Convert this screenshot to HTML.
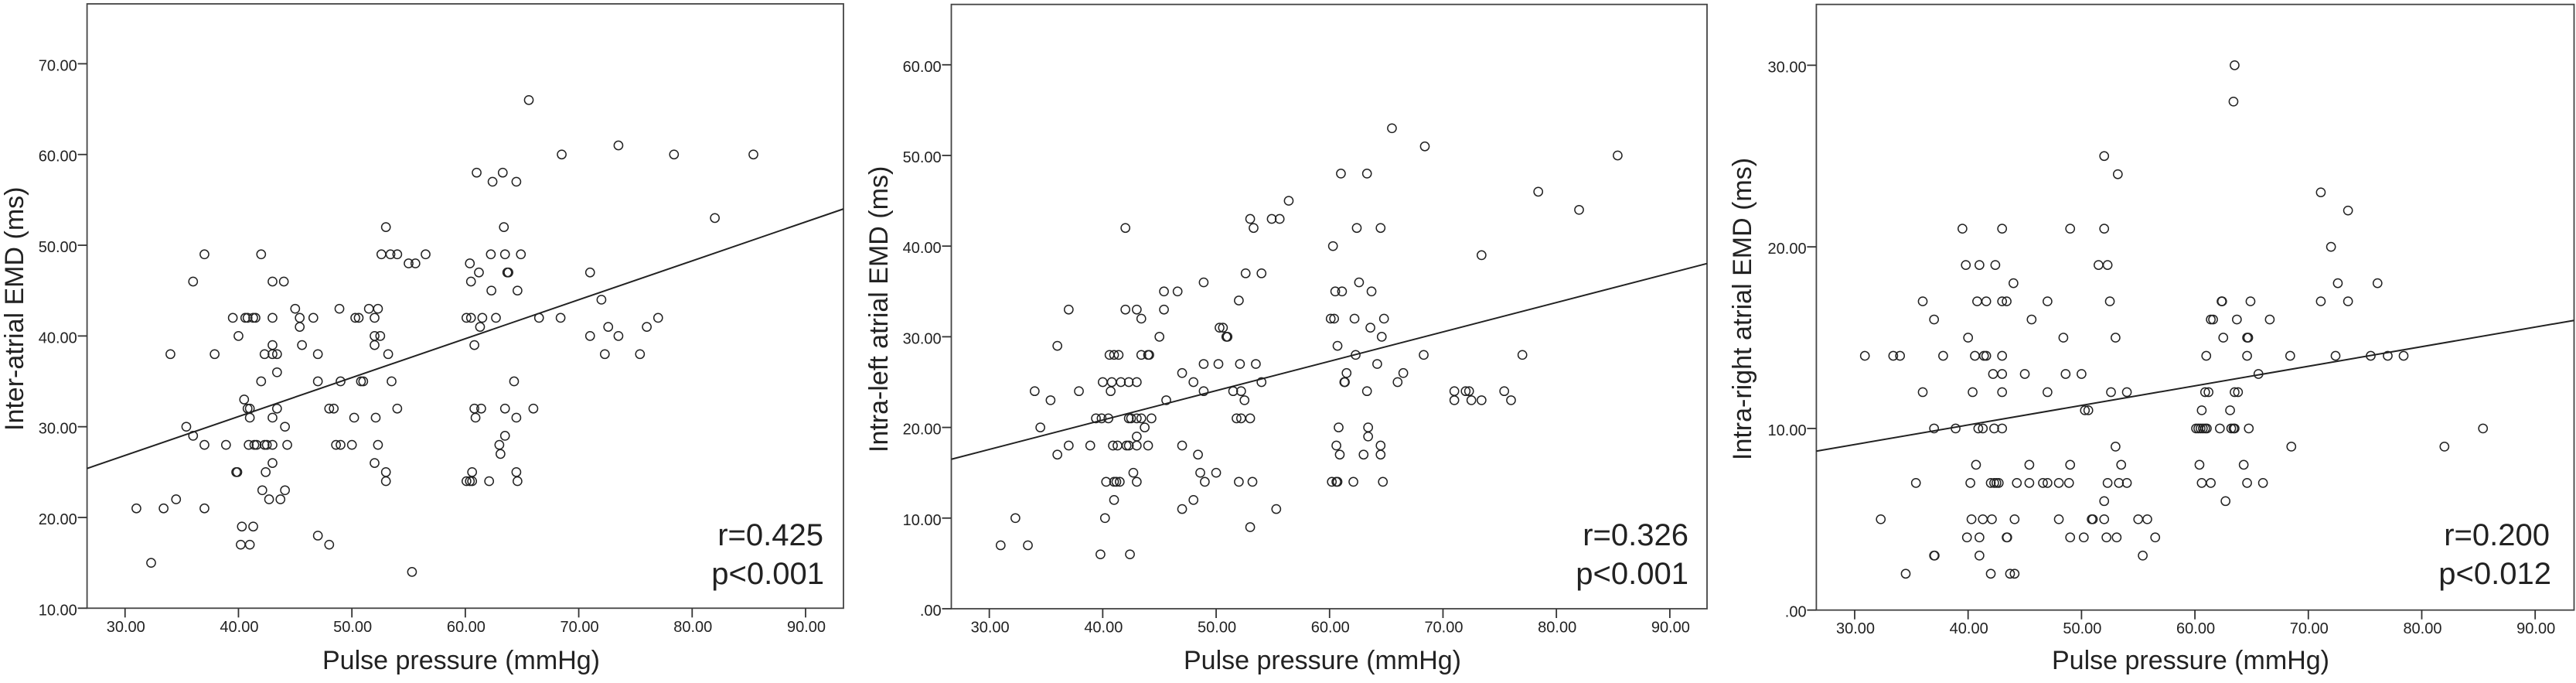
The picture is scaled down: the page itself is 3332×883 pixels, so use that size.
<!DOCTYPE html>
<html lang="en">
<head>
<meta charset="utf-8">
<title>Pulse pressure vs EMD scatter plots</title>
<style>
html,body{margin:0;padding:0;background:#fff;width:3332px;height:883px;overflow:hidden}
svg{display:block}
text{font-family:"Liberation Sans",Arial,sans-serif;fill:#222}
.tick{font-size:20px}
.title{font-size:34px}
.note{font-size:40px;text-anchor:end}
</style>
</head>
<body>
<svg id="figure" xmlns="http://www.w3.org/2000/svg" width="3332" height="883" viewBox="0 0 3332 883">
  <rect x="0" y="0" width="3332" height="883" fill="#fff"/>

  <g id="panel-a">
    <text class="title" transform="translate(30 557) rotate(-90)">Inter-atrial EMD (ms)</text>
    <text class="title" x="417" y="865">Pulse pressure (mmHg)</text>
    <text class="note" x="1065" y="705">r=0.425</text>
    <text class="note" x="1066" y="755">p&lt;0.001</text>
  </g>

  <g id="panel-b">
    <text class="title" transform="translate(1148 585) rotate(-90)">Intra-left atrial EMD (ms)</text>
    <text class="title" x="1531" y="865">Pulse pressure (mmHg)</text>
    <text class="note" x="2184" y="705">r=0.326</text>
    <text class="note" x="2184" y="755">p&lt;0.001</text>
  </g>

  <g id="panel-c">
    <text class="title" transform="translate(2265 595) rotate(-90)">Intra-right atrial EMD (ms)</text>
    <text class="title" x="2654" y="865">Pulse pressure (mmHg)</text>
    <text class="note" x="3298" y="705">r=0.200</text>
    <text class="note" x="3300" y="755">p&lt;0.012</text>
  </g>
</svg>

<script>
const xTickValues = [30, 40, 50, 60, 70, 80, 90];
const xTickLabels = ["30.00", "40.00", "50.00", "60.00", "70.00", "80.00", "90.00"];

const interAtrialYTicks = [10, 20, 30, 40, 50, 60, 70];
const interAtrialYLabels = ["10.00", "20.00", "30.00", "40.00", "50.00", "60.00", "70.00"];
const intraLeftYTicks = [0, 10, 20, 30, 40, 50, 60];
const intraLeftYLabels = [".00", "10.00", "20.00", "30.00", "40.00", "50.00", "60.00"];
const intraRightYTicks = [0, 10, 20, 30];
const intraRightYLabels = [".00", "10.00", "20.00", "30.00"];

const interAtrialFit = [25.4, 54.0];
const intraLeftFit = [16.49, 38.08];
const intraRightFit = [8.75, 15.95];

const interAtrialPressure = [
  65.6, 73.5, 68.5, 78.4, 85.4, 61, 63.3, 62.4, 64.5, 82, 53, 63.4,
  37, 42, 52.6, 53.4, 54, 56.5, 62.25, 63.5, 64.9,
  55, 55.6, 60.4,
  61.2, 63.7, 63.8, 71,
  36, 43, 44, 60.5,
  62.3, 64.6,
  72,
  45, 48.9, 51.5, 52.3,
  39.5, 40.6, 40.8, 41.3, 41.5, 43, 45.4, 46.6, 50.3, 50.6, 52, 60.1, 60.5, 61.5, 62.7, 66.5, 68.4, 77,
  45.4, 61.3, 72.6, 76,
  40, 52, 52.5, 71, 73.5,
  43, 45.6, 52, 60.8,
  34, 37.9, 42.3, 43, 43.4, 47, 53.2, 72.3, 75.4,
  43.4,
  42, 47, 49, 50.8, 51, 53.5, 64.3,
  40.5,
  40.8, 41, 43.4, 48, 48.4, 54, 60.8, 61.4, 63.5, 66,
  41, 43, 50.2, 52.1, 60.9, 64.5,
  35.4, 44.1,
  36, 63.5,
  37, 38.9, 40.9, 41.4, 41.6, 42.3, 42.5, 43, 44.3, 48.6, 49, 50, 52.3, 63,
  63.1,
  43, 52,
  39.8, 39.9, 42.4, 53, 60.6, 64.5,
  53, 60.1, 60.4, 60.6, 62.1, 64.6,
  42.1, 44.1,
  34.5, 42.7, 43.7,
  31, 33.4, 37,
  40.3, 41.3,
  47,
  40.2, 41, 48,
  32.3,
  55.3
];
const interAtrialEmd = [
  66, 61, 60, 60, 60, 58, 58, 57, 57, 53, 52, 52,
  49, 49, 49, 49, 49, 49, 49, 49, 49,
  48, 48, 48,
  47, 47, 47, 47,
  46, 46, 46, 46,
  45, 45,
  44,
  43, 43, 43, 43,
  42, 42, 42, 42, 42, 42, 42, 42, 42, 42, 42, 42, 42, 42, 42, 42, 42, 42,
  41, 41, 41, 41,
  40, 40, 40, 40, 40,
  39, 39, 39, 39,
  38, 38, 38, 38, 38, 38, 38, 38, 38,
  36,
  35, 35, 35, 35, 35, 35, 35,
  33,
  32, 32, 32, 32, 32, 32, 32, 32, 32, 32,
  31, 31, 31, 31, 31, 31,
  30, 30,
  29, 29,
  28, 28, 28, 28, 28, 28, 28, 28, 28, 28, 28, 28, 28, 28,
  27,
  26, 26,
  25, 25, 25, 25, 25, 25,
  24, 24, 24, 24, 24, 24,
  23, 23,
  22, 22, 22,
  21, 21, 21,
  19, 19,
  18,
  17, 17, 17,
  15,
  14
];

const intraLeftPressure = [
  65.5, 68.4, 85.4, 61, 63.3, 78.4, 56.4, 82,
  53, 54.9, 55.6,
  42, 53.3, 62.4, 64.5,
  60.3, 73.4,
  52.6, 54,
  48.9, 62.6,
  45.4, 46.6, 60.5, 61.1, 63.7,
  52,
  37, 42, 43, 45.4,
  43.4, 60.1, 60.4, 62.2, 64.8,
  50.3, 50.6, 63.6,
  45, 50.9, 51, 64.6,
  36, 60.7,
  40.6, 41, 41.4, 43.4, 44, 44.1, 62.3, 68.3, 77,
  48.9, 50.2, 52.1, 53.5, 64.2,
  47, 61.5, 66.5,
  40, 40.8, 41.6, 42.3, 43, 48, 54, 61.3, 61.35, 66,
  34, 37.9, 40.7, 48.9, 51.5, 52.2, 63.3, 71, 72, 72.3, 75.4,
  35.4, 45.6, 52.5, 71, 72.5, 73.4, 76,
  39.4, 39.9, 40.5, 42.3, 42.5, 43, 43.4, 44.3, 51.8, 52.2, 53,
  34.5, 43.7, 60.8, 63.4,
  43, 63.4,
  37, 38.9, 40.9, 41.3, 42.1, 42.3, 43, 44, 47, 60.6, 64.5,
  36, 48.4, 60.9, 63, 64.5,
  42.7, 48.6, 50,
  40.3, 41, 41.2, 41.5, 43, 49, 52, 53.2, 60.2, 60.6, 60.7, 62.1, 64.7,
  41, 48,
  47, 55.3,
  32.3, 40.2,
  53,
  31, 33.4,
  39.8, 42.4
];
const intraLeftEmd = [
  53, 51, 50, 48, 48, 46, 45, 44,
  43, 43, 43,
  42, 42, 42, 42,
  40, 39,
  37, 37,
  36, 36,
  35, 35, 35, 35, 35,
  34,
  33, 33, 33, 33,
  32, 32, 32, 32, 32,
  31, 31, 31,
  30, 30, 30, 30,
  29, 29,
  28, 28, 28, 28, 28, 28, 28, 28, 28,
  27, 27, 27, 27, 27,
  26, 26, 26,
  25, 25, 25, 25, 25, 25, 25, 25, 25, 25,
  24, 24, 24, 24, 24, 24, 24, 24, 24, 24, 24,
  23, 23, 23, 23, 23, 23, 23,
  21, 21, 21, 21, 21, 21, 21, 21, 21, 21, 21,
  20, 20, 20, 20,
  19, 19,
  18, 18, 18, 18, 18, 18, 18, 18, 18, 18, 18,
  17, 17, 17, 17, 17,
  15, 15, 15,
  14, 14, 14, 14, 14, 14, 14, 14, 14, 14, 14, 14, 14,
  12, 12,
  11, 11,
  10, 10,
  9,
  7, 7,
  6, 6
];

const intraRightPressure = [
  63.5, 63.4, 52, 53.2, 71.1, 73.5,
  39.5, 43, 49, 52,
  72,
  39.8, 41, 42.4, 51.5, 52.3,
  44, 72.6, 76.1,
  36, 40.8, 41.6, 43, 43.4, 47, 52.5, 62.35, 62.4, 64.9, 71.1, 73.5,
  37, 45.6, 61.4, 61.6, 63.7, 66.6,
  40, 48.4, 53, 62.5, 64.6, 64.7,
  30.9, 33.4, 34, 37.8, 40.6, 41.4, 41.6, 43, 61, 64.6, 68.4, 72.4, 75.5, 77, 78.4,
  42.2, 43, 45, 48.6, 50, 65.6,
  36, 40.4, 43, 47, 52.6, 54, 60.9, 61.2, 63.5, 63.8,
  50.3, 50.6, 60.6, 63.1,
  37, 38.9, 40.9, 41.3, 42.3, 43, 60.1, 60.3, 60.5, 60.7, 60.9, 61.05, 62.2, 63.2, 63.4, 63.5, 64.75, 85.4,
  53, 68.5, 82,
  40.7, 45.4, 49, 53.5, 60.4, 64.3,
  35.4, 40.2, 42, 42.3, 42.5, 42.7, 44.3, 45.4, 46.6, 47, 48, 48.9, 52.3, 53.3, 54, 60.6, 61.4, 64.6, 66,
  52, 62.7,
  32.3, 40.3, 41.3, 42.1, 44.1, 48, 50.9, 51, 52, 55, 55.8,
  39.9, 41, 43.4, 43.45, 49, 50.2, 52.2, 53.1, 56.5,
  37, 37.05, 41, 55.4,
  34.5, 42, 43.7, 44.1
];
const intraRightEmd = [
  30, 28, 25, 24, 23, 22,
  21, 21, 21, 21,
  20,
  19, 19, 19, 19, 19,
  18, 18, 18,
  17, 17, 17, 17, 17, 17, 17, 17, 17, 17, 17, 17,
  16, 16, 16, 16, 16, 16,
  15, 15, 15, 15, 15, 15,
  14, 14, 14, 14, 14, 14, 14, 14, 14, 14, 14, 14, 14, 14, 14,
  13, 13, 13, 13, 13, 13,
  12, 12, 12, 12, 12, 12, 12, 12, 12, 12,
  11, 11, 11, 11,
  10, 10, 10, 10, 10, 10, 10, 10, 10, 10, 10, 10, 10, 10, 10, 10, 10, 10,
  9, 9, 9,
  8, 8, 8, 8, 8, 8,
  7, 7, 7, 7, 7, 7, 7, 7, 7, 7, 7, 7, 7, 7, 7, 7, 7, 7, 7,
  6, 6,
  5, 5, 5, 5, 5, 5, 5, 5, 5, 5, 5,
  4, 4, 4, 4, 4, 4, 4, 4, 4,
  3, 3, 3, 3,
  2, 2, 2, 2
];

const SVG_NS = "http://www.w3.org/2000/svg";

function linearScale(domain, range) {
  return function (value) {
    return range[0] + (value - domain[0]) * (range[1] - range[0]) / (domain[1] - domain[0]);
  };
}

function makeLine(x1, y1, x2, y2, stroke, width) {
  const el = document.createElementNS(SVG_NS, "line");
  el.setAttribute("x1", x1);
  el.setAttribute("y1", y1);
  el.setAttribute("x2", x2);
  el.setAttribute("y2", y2);
  el.setAttribute("stroke", stroke);
  el.setAttribute("stroke-width", width);
  return el;
}

function makeTickLabel(x, y, anchor, label) {
  const el = document.createElementNS(SVG_NS, "text");
  el.setAttribute("class", "tick");
  el.setAttribute("x", x);
  el.setAttribute("y", y);
  el.setAttribute("text-anchor", anchor);
  el.textContent = label;
  return el;
}

function drawPanel(panelId, frame, xDomain, yDomain, yTicks, yLabels, pressure, emd, fit) {
  const panel = document.getElementById(panelId);
  const scaleX = linearScale(xDomain, [frame.left, frame.right]);
  const scaleY = linearScale(yDomain, [frame.bottom, frame.top]);

  const border = document.createElementNS(SVG_NS, "rect");
  border.setAttribute("x", frame.left);
  border.setAttribute("y", frame.top);
  border.setAttribute("width", frame.right - frame.left);
  border.setAttribute("height", frame.bottom - frame.top);
  border.setAttribute("fill", "none");
  border.setAttribute("stroke", "#444");
  border.setAttribute("stroke-width", "1.8");
  
  
  panel.appendChild(border);

  xTickValues.forEach(function (value, i) {
    const x = scaleX(value);
    const tick = makeLine(x, frame.bottom, x, frame.bottom + 12, "#333", 1.8);
    
    
    panel.appendChild(tick);
    const label = makeTickLabel(x + 1, frame.bottom + 30.5, "middle", xTickLabels[i]);
    
    
    panel.appendChild(label);
  });

  yTicks.forEach(function (value, i) {
    const y = scaleY(value);
    const tick = makeLine(frame.left - 12, y, frame.left, y, "#333", 1.8);
    
    
    panel.appendChild(tick);
    const label = makeTickLabel(frame.left - 12.8, y + 9, "end", yLabels[i]);
    
    
    panel.appendChild(label);
  });

  const fitLine = makeLine(scaleX(xDomain[0]), scaleY(fit[0]), scaleX(xDomain[1]), scaleY(fit[1]), "#222", 2);
  
  
  panel.appendChild(fitLine);

  pressure.forEach(function (value, i) {
    const dot = document.createElementNS(SVG_NS, "circle");
    dot.setAttribute("cx", scaleX(value));
    dot.setAttribute("cy", scaleY(emd[i]));
    dot.setAttribute("r", 5.6);
    dot.setAttribute("fill", "none");
    dot.setAttribute("stroke", "#222");
    dot.setAttribute("stroke-width", 1.5);
    
    
    panel.appendChild(dot);
  });
}

drawPanel("panel-a", {left: 112.6, right: 1091, top: 5, bottom: 786.3},
  [26.65, 93.34], [10, 76.6], interAtrialYTicks, interAtrialYLabels,
  interAtrialPressure, interAtrialEmd, interAtrialFit);

drawPanel("panel-b", {left: 1230.5, right: 2208, top: 5.7, bottom: 787},
  [26.65, 93.28], [0, 66.66], intraLeftYTicks, intraLeftYLabels,
  intraLeftPressure, intraLeftEmd, intraLeftFit);

drawPanel("panel-c", {left: 2349.4, right: 3329.5, top: 5.7, bottom: 788.7},
  [26.62, 93.43], [0, 33.35], intraRightYTicks, intraRightYLabels,
  intraRightPressure, intraRightEmd, intraRightFit);
</script>
</body>
</html>
